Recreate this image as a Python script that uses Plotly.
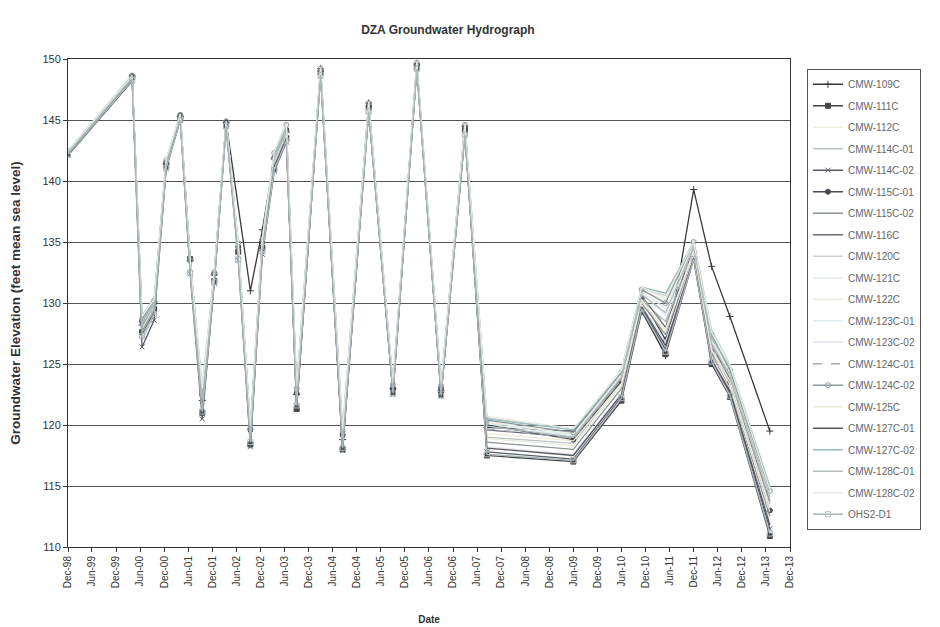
import plotly.graph_objects as go

dates = ["1998-12-01", "2000-04-01", "2000-06-15", "2000-09-15", "2000-12-15", "2001-04-01",
         "2001-06-15", "2001-09-15", "2001-12-15", "2002-03-15", "2002-06-15", "2002-09-15",
         "2002-12-15", "2003-03-15", "2003-06-15", "2003-09-01", "2004-03-01", "2004-08-15",
         "2005-03-01", "2005-09-01", "2006-03-01", "2006-09-01", "2007-03-01", "2007-08-15",
         "2009-06-01", "2010-06-01", "2010-11-01", "2011-05-01", "2011-12-01", "2012-04-15",
         "2012-09-01", "2013-07-01"]

wells = ["CMW-109C", "CMW-111C", "CMW-112C", "CMW-114C-01", "CMW-114C-02", "CMW-115C-01",
         "CMW-115C-02", "CMW-116C", "CMW-120C", "CMW-121C", "CMW-122C", "CMW-123C-01",
         "CMW-123C-02", "CMW-124C-01", "CMW-124C-02", "CMW-125C", "CMW-127C-01", "CMW-127C-02",
         "CMW-128C-01", "CMW-128C-02", "OHS2-D1"]

cmw_109c = [142.4, 148.6, 128.2, 130.1, 141.4, 145.3, 133.5, 122.0, 132.3, 144.8, None, 131.0, 136.0, 141.8, 144.0, 122.5, 149.2, 118.8, 146.4, 123.0, 149.6, 122.8, 144.5, 119.8, 119.5, 124.0, 129.5, 125.7, 139.3, 133.0, 128.9, 119.5]
cmw_111c = [142.2, 148.5, 127.6, 129.5, 141.2, 145.1, 133.6, 121.0, 131.8, 144.6, 134.2, 118.4, 134.5, 141.0, 143.5, 121.3, 148.9, 118.0, 146.0, 122.7, 149.3, 122.5, 144.1, 117.5, 117.0, 122.0, 129.3, 125.8, 133.6, 125.0, 122.3, 110.9]
cmw_112c = [142.5, 148.4, 128.8, 130.3, 141.7, 145.4, 133.0, 122.8, 132.5, 144.9, 134.8, 119.8, 135.2, 142.2, 144.6, 122.8, 149.1, 119.4, 146.3, 123.2, 149.7, 123.0, 144.5, 120.3, 119.2, 124.2, 131.0, 130.2, 135.0, 127.5, 124.6, 114.8]
cmw_114c_01 = [142.3, 148.3, 127.0, 129.0, 141.3, 145.2, 132.8, 121.5, 132.0, 144.7, 133.8, 119.2, 134.8, 141.5, 143.8, 122.2, 148.8, 119.0, 145.9, 123.1, 149.4, 122.9, 144.2, 119.0, 118.5, 123.5, 130.2, 128.5, 134.4, 126.3, 123.7, 113.5]
cmw_114c_02 = [142.1, 148.2, 126.4, 128.6, 141.0, 145.0, 132.4, 120.5, 131.6, 144.5, 133.5, 118.2, 134.0, 140.8, 143.2, 121.5, 148.6, 117.9, 145.7, 122.5, 149.2, 122.4, 143.8, 117.8, 117.2, 122.3, 129.6, 126.2, 133.8, 125.4, 122.6, 111.5]
cmw_115c_01 = [142.4, 148.6, 128.5, 130.0, 141.5, 145.4, 133.5, 122.5, 132.4, 144.8, 134.6, 119.6, 135.0, 141.9, 144.2, 122.6, 149.0, 119.2, 146.2, 123.0, 149.5, 123.0, 144.4, 120.0, 118.8, 123.6, 130.4, 127.0, 134.2, 126.0, 123.5, 113.0]
cmw_115c_02 = [142.2, 148.4, 127.8, 129.6, 141.3, 145.2, 133.0, 121.8, 132.0, 144.6, 134.0, 119.0, 134.6, 141.4, 143.7, 122.0, 148.9, 118.6, 146.0, 122.8, 149.4, 122.7, 144.0, 118.6, 118.0, 123.0, 130.0, 127.4, 134.0, 125.8, 123.0, 112.5]
cmw_116c = [142.3, 148.5, 128.0, 129.9, 141.4, 145.3, 133.2, 122.0, 132.2, 144.7, 134.3, 119.4, 134.9, 141.7, 144.0, 122.3, 149.1, 118.9, 146.1, 123.0, 149.5, 122.8, 144.3, 119.6, 119.0, 123.8, 130.6, 128.0, 134.6, 126.6, 123.8, 113.8]
cmw_120c = [142.5, 148.7, 129.0, 130.4, 141.8, 145.5, 133.6, 123.2, 132.6, 144.9, 135.0, 119.9, 135.4, 142.4, 144.8, 123.3, 149.3, 119.8, 146.5, 123.4, 149.8, 123.4, 144.7, 120.6, 119.6, 124.4, 131.2, 130.6, 135.1, 127.8, 125.0, 115.0]
cmw_121c = [142.4, 148.5, 128.3, 130.0, 141.6, 145.3, 133.3, 122.4, 132.3, 144.8, 134.5, 119.7, 135.1, 142.0, 144.3, 122.9, 149.2, 119.3, 146.3, 123.3, 149.6, 123.1, 144.5, 120.2, 119.3, 124.1, 130.9, 129.6, 134.8, 127.2, 124.2, 114.3]
cmw_122c = [142.3, 148.4, 127.5, 129.4, 141.3, 145.1, 132.9, 121.6, 132.0, 144.6, 134.0, 119.1, 134.7, 141.3, 143.6, 122.1, 148.8, 118.7, 145.9, 122.9, 149.3, 122.6, 144.0, 118.9, 118.3, 123.2, 130.1, 127.8, 134.1, 126.1, 123.3, 112.9]
cmw_123c_01 = [142.4, 148.6, 128.6, 130.2, 141.6, 145.4, 133.4, 122.6, 132.4, 144.8, 134.7, 119.6, 135.1, 142.1, 144.4, 122.7, 149.1, 119.3, 146.3, 123.2, 149.6, 123.0, 144.5, 120.1, 119.1, 124.0, 130.8, 129.0, 134.7, 126.9, 124.0, 114.0]
cmw_123c_02 = [142.2, 148.3, 127.2, 129.2, 141.2, 145.1, 132.7, 121.2, 131.8, 144.5, 133.7, 118.8, 134.4, 141.1, 143.4, 121.8, 148.7, 118.4, 145.8, 122.7, 149.3, 122.6, 143.9, 118.2, 117.6, 122.6, 129.8, 126.8, 133.9, 125.6, 122.9, 112.0]
cmw_124c_01 = [142.3, 148.5, 128.1, 129.8, 141.5, 145.3, 133.1, 122.1, 132.2, 144.7, 134.4, 119.5, 134.9, 141.8, 144.1, 122.4, 149.0, 119.0, 146.1, 123.1, 149.5, 122.9, 144.3, 119.7, 118.9, 123.7, 130.5, 128.2, 134.5, 126.5, 123.9, 113.7]
cmw_124c_02 = [142.4, 148.6, 128.7, 130.2, 141.7, 145.4, 133.5, 122.7, 132.5, 144.9, 134.9, 119.7, 135.2, 142.3, 144.6, 123.0, 149.2, 119.5, 146.4, 123.3, 149.7, 123.2, 144.6, 120.4, 119.4, 124.3, 131.1, 130.0, 135.0, 127.4, 124.5, 114.6]
cmw_125c = [142.3, 148.4, 127.9, 129.7, 141.4, 145.2, 133.1, 121.9, 132.1, 144.7, 134.1, 119.3, 134.8, 141.6, 143.9, 122.2, 148.9, 118.8, 146.0, 122.9, 149.4, 122.8, 144.2, 119.3, 118.7, 123.4, 130.3, 127.6, 134.3, 126.2, 123.6, 113.2]
cmw_127c_01 = [142.2, 148.4, 127.4, 129.3, 141.2, 145.1, 132.6, 121.3, 131.9, 144.6, 133.9, 118.9, 134.5, 141.2, 143.5, 121.7, 148.8, 118.3, 145.8, 122.6, 149.3, 122.5, 143.9, 118.1, 117.5, 122.5, 129.7, 126.5, 133.7, 125.3, 122.8, 111.8]
cmw_127c_02 = [142.4, 148.6, 128.4, 130.1, 141.6, 145.4, 133.4, 122.3, 132.3, 144.8, 134.6, 119.6, 135.0, 142.0, 144.3, 122.8, 149.2, 119.2, 146.3, 123.2, 149.6, 123.1, 144.5, 120.5, 119.6, 124.5, 131.3, 130.8, 134.9, 127.1, 124.8, 114.9]
cmw_128c_01 = [142.3, 148.5, 128.0, 129.9, 141.5, 145.3, 133.2, 122.2, 132.2, 144.7, 134.4, 119.4, 134.9, 141.8, 144.0, 122.4, 149.0, 119.0, 146.1, 123.0, 149.5, 122.9, 144.3, 119.9, 119.0, 123.9, 130.7, 129.2, 134.6, 126.7, 124.1, 114.1]
cmw_128c_02 = [142.5, 148.6, 128.9, 130.3, 141.8, 145.5, 133.6, 123.0, 132.6, 144.9, 135.0, 119.9, 135.3, 142.4, 144.7, 123.2, 149.3, 119.7, 146.5, 123.4, 149.8, 123.3, 144.7, 120.7, 119.7, 124.5, 131.3, 130.4, 135.0, 127.6, 124.9, 114.7]
ohs2_d1 = [142.2, 148.3, 127.3, 129.1, 141.1, 145.0, 132.5, 121.1, 131.7, 144.5, 133.6, 118.6, 134.2, 140.9, 143.3, 121.6, 148.7, 118.1, 145.7, 122.6, 149.2, 122.4, 143.8, 117.6, 117.1, 122.2, 129.5, 126.0, 133.6, 125.2, 122.4, 111.1]

series = [cmw_109c, cmw_111c, cmw_112c, cmw_114c_01, cmw_114c_02, cmw_115c_01, cmw_115c_02,
          cmw_116c, cmw_120c, cmw_121c, cmw_122c, cmw_123c_01, cmw_123c_02, cmw_124c_01,
          cmw_124c_02, cmw_125c, cmw_127c_01, cmw_127c_02, cmw_128c_01, cmw_128c_02, ohs2_d1]

# (color, marker symbol or None, dash)
styles = [
    ("#3a3a3a", "cross-thin", "solid"),
    ("#454545", "square", "solid"),
    ("#eef0dc", None, "solid"),
    ("#b9c3c3", None, "solid"),
    ("#575c68", "x-thin", "solid"),
    ("#4a4a52", "circle", "solid"),
    ("#8c9494", None, "solid"),
    ("#676b72", None, "solid"),
    ("#c9d2ca", None, "solid"),
    ("#e3ece6", None, "solid"),
    ("#e8ebde", None, "solid"),
    ("#dcebef", None, "solid"),
    ("#e6e0ef", None, "solid"),
    ("#a3abb3", None, "dash"),
    ("#8e989c", "circle-open", "solid"),
    ("#ece8d6", None, "solid"),
    ("#53585d", None, "solid"),
    ("#93bcbc", None, "solid"),
    ("#b3bbbb", None, "solid"),
    ("#e4ece4", None, "solid"),
    ("#aab6ba", "square-open", "solid"),
]

fig = go.Figure()
for i, (name, vals) in enumerate(zip(wells, series)):
    color, sym, dash = styles[i]
    mode = "lines+markers" if sym else "lines"
    fig.add_trace(go.Scatter(
        x=dates, y=vals, name=name, mode=mode, connectgaps=True,
        legendgroup=name,
        line=dict(color=color, width=1.3, dash=dash),
        marker=dict(symbol=sym or "circle", size=5, color=color,
                    line=dict(color=color, width=1)),
    ))

fig.update_layout(
    width=940, height=627,
    paper_bgcolor="white", plot_bgcolor="white",
    margin=dict(l=60, r=158, t=51, b=88, autoexpand=False),
    font=dict(family="Liberation Sans, Arial, sans-serif", color="#333", size=10),
    title=dict(text="<b>DZA Groundwater Hydrograph</b>", x=0.468, xanchor="center",
               y=0.965, yanchor="middle", font=dict(size=12, color="#333")),
    showlegend=True,
    legend=dict(x=1.0235, xanchor="left", y=0.98, yanchor="top",
                bgcolor="white", bordercolor="#555", borderwidth=1,
                font=dict(size=10, color="#666"), tracegroupgap=2.5),
)

fig.update_xaxes(
    type="date", range=["1998-12-01", "2013-12-01"], automargin=False,
    tick0="1998-12-01", dtick="M6", tickformat="%b-%y", tickangle=-90,
    ticks="outside", ticklen=4, tickcolor="#333",
    showgrid=False, showline=True, linecolor="#333", linewidth=1, mirror=True,
    title=dict(text="<b>Date</b>", font=dict(size=10, color="#333"), standoff=28),
    tickfont=dict(size=10, color="#333"),
)
fig.update_yaxes(
    range=[110, 150], dtick=5, ticks="outside", ticklen=4, tickcolor="#333",
    automargin=False,
    showgrid=True, gridcolor="#555", gridwidth=1,
    showline=True, linecolor="#333", linewidth=1, mirror=True, zeroline=False,
    title=dict(text="<b>Groundwater Elevation (feet mean sea level)</b>",
               font=dict(size=13.5, color="#333"), standoff=20),
    tickfont=dict(size=11, color="#333"),
)

fig.write_html("out.html")
